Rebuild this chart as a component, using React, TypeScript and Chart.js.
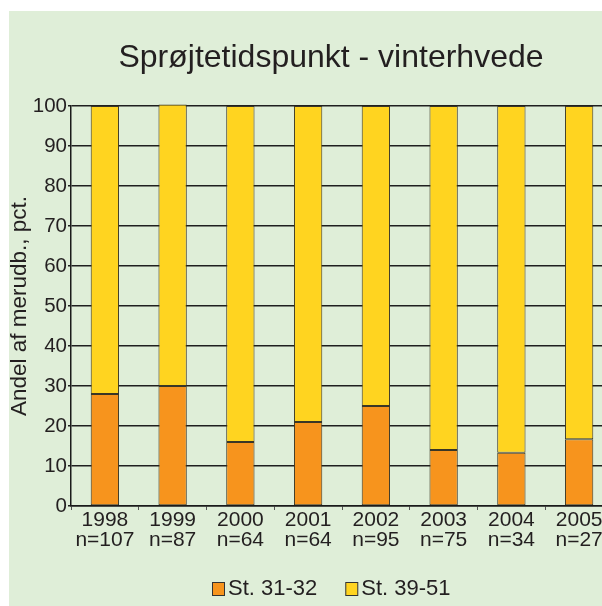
import React, { useEffect, useRef } from "react";
import { Chart, registerables } from "chart.js";

Chart.register(...registerables);

const TITLE = "Sprøjtetidspunkt - vinterhvede";
const Y_TITLE = "Andel af merudb., pct.";
const YEARS = ["1998", "1999", "2000", "2001", "2002", "2003", "2004", "2005"];
const COUNTS = ["n=107", "n=87", "n=64", "n=64", "n=95", "n=75", "n=34", "n=27"];
const SERIES_NAMES = ["St. 31-32", "St. 39-51"];
const EARLY = [28, 30, 16, 21, 25, 14, 13.3, 16.7];
const LATE = [72, 70.4, 84, 79, 75, 86, 86.7, 83.3];
const Y_MIN = 0;
const Y_MAX = 100;
const Y_STEP = 10;

const FONT = "'Liberation Sans', Arial, Helvetica, sans-serif";
const TEXT = "#231f20";
const BG = "#dfeed8";
const ORANGE = "#f7941d";
const YELLOW = "#ffd420";
const BAR_BORDER = "#3a3626";

const W = 644;
const H = 595;

const textPlugin = {
  id: "customText",
  afterDraw(chart: any) {
    const ctx = chart.ctx as CanvasRenderingContext2D;
    ctx.save();
    ctx.fillStyle = TEXT;
    ctx.font = `32px ${FONT}`;
    ctx.textAlign = "center";
    ctx.textBaseline = "alphabetic";
    ctx.fillText(TITLE, chart.width / 2, 56);

    ctx.font = `22px ${FONT}`;
    const items = chart.data.datasets.map((ds: any) => ({
      label: ds.label as string,
      color: ds.backgroundColor as string,
      w: ctx.measureText(ds.label).width,
    }));
    const box = 12;
    const gap = 4;
    const between = 28;
    const total =
      items.reduce((s: number, it: any) => s + box + gap + it.w, 0) +
      between * (items.length - 1);
    let x = Math.round(chart.width / 2 - total / 2);
    const baseY = chart.height - 11;
    items.forEach((it: any) => {
      ctx.fillStyle = it.color;
      ctx.fillRect(x + 0.5, baseY - 12.5, box, 13);
      ctx.strokeStyle = "#333";
      ctx.lineWidth = 1;
      ctx.strokeRect(x + 0.5, baseY - 12.5, box, 13);
      ctx.fillStyle = TEXT;
      ctx.textAlign = "left";
      ctx.textBaseline = "alphabetic";
      ctx.fillText(it.label, x + box + gap, baseY);
      x += box + gap + it.w + between;
    });
    ctx.restore();
  },
};

export default function App() {
  const ref = useRef<HTMLCanvasElement | null>(null);

  useEffect(() => {
    if (!ref.current) return;
    const labels = YEARS.map((y, i) => [y, COUNTS[i]]);
    const chart = new Chart(ref.current, {
      type: "bar",
      data: {
        labels,
        datasets: [
          {
            label: SERIES_NAMES[0],
            data: EARLY,
            backgroundColor: ORANGE,
            borderColor: BAR_BORDER,
            borderWidth: 1,
            borderSkipped: false,
            clip: false as any,
          },
          {
            label: SERIES_NAMES[1],
            data: LATE,
            backgroundColor: YELLOW,
            borderColor: BAR_BORDER,
            borderWidth: 1,
            borderSkipped: false,
            clip: false as any,
          },
        ],
      },
      options: {
        responsive: false,
        animation: false,
        devicePixelRatio: 1,
        layout: { padding: { top: 95, left: 0, right: 40, bottom: 40 } },
        datasets: {
          bar: { categoryPercentage: 1, barPercentage: 0.418 },
        },
        plugins: {
          legend: { display: false },
          title: { display: false },
          tooltip: { enabled: false },
        },
        scales: {
          x: {
            stacked: true,
            offset: true,
            afterFit: (axis: any) => {
              axis.height = 60;
            },
            grid: {
              display: true,
              offset: true,
              drawOnChartArea: false,
              drawTicks: true,
              tickLength: 4,
              color: "#555",
              lineWidth: 1,
            },
            border: { display: true, color: "#1a1a1a", width: 1.5 },
            ticks: {
              color: TEXT,
              padding: 0,
              maxRotation: 0,
              autoSkip: false,
              font: { family: FONT, size: 21, lineHeight: 0.95 },
            },
          },
          y: {
            stacked: true,
            min: Y_MIN,
            max: Y_MAX,
            afterFit: (axis: any) => {
              axis.width = 62;
            },
            grid: {
              color: "#1f1f1f",
              lineWidth: 1.5,
              tickLength: 3,
              drawTicks: true,
            },
            border: { display: true, color: "#1a1a1a", width: 1.5 },
            ticks: {
              stepSize: Y_STEP,
              color: TEXT,
              padding: 1,
              font: { family: FONT, size: 20.5 },
            },
            title: {
              display: true,
              text: Y_TITLE,
              color: TEXT,
              padding: 0,
              font: { family: FONT, size: 22.5, lineHeight: 1.0 },
            },
          },
        },
      },
      plugins: [textPlugin],
    });
    return () => chart.destroy();
  }, []);

  return (
    <div
      style={{
        position: "fixed",
        left: 9,
        top: 11,
        right: 0,
        bottom: 0,
        overflow: "hidden",
        background: BG,
      }}
    >
      <canvas
        ref={ref}
        width={W}
        height={H}
        style={{ display: "block", width: W, height: H }}
      />
    </div>
  );
}
